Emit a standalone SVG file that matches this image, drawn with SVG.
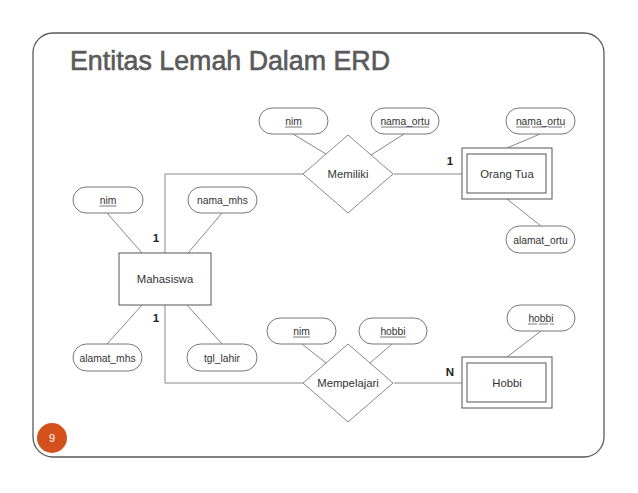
<svg xmlns="http://www.w3.org/2000/svg" width="638" height="493" viewBox="0 0 638 493">
<style>
.frame{fill:#fff;stroke:#5a5a5a;stroke-width:1.3}
.title{font-family:"Liberation Sans",Arial,sans-serif;font-size:27px;fill:#5a5a5a;stroke:#5a5a5a;stroke-width:0.6}
.attr rect{fill:#fff;stroke:#777;stroke-width:1}
.attr text,.ent text,.rel text{font-family:"Liberation Sans",Arial,sans-serif;fill:#333;text-anchor:middle}
.attr text{font-size:10.3px}
.ent text,.rel text{font-size:11.3px}
.ul{stroke:#555;stroke-width:0.8}
.ent rect{fill:#fff;stroke:#555;stroke-width:1}
.rel polygon{fill:#fff;stroke:#888;stroke-width:1}
.conn line,.conn polyline{fill:none;stroke:#888;stroke-width:1}
.card{font-family:"Liberation Sans",Arial,sans-serif;font-size:11.5px;font-weight:bold;fill:#222;text-anchor:middle}
</style>
<rect width="638" height="493" fill="#fff"/>
<rect class="frame" x="33" y="33" width="571" height="424" rx="20" ry="20"/>
<text class="title" x="70" y="70" textLength="320" lengthAdjust="spacingAndGlyphs">Entitas Lemah Dalam ERD</text>

<g id="connectors" class="conn">
<polyline points="165,253 165,174 303,174"/>
<polyline points="165,305 165,383 303,383"/>
<line x1="394" y1="174" x2="462" y2="174"/>
<line x1="394" y1="383" x2="462" y2="383"/>
<line x1="293" y1="134" x2="326" y2="154"/>
<line x1="404" y1="134" x2="371" y2="155"/>
<line x1="540" y1="134" x2="507" y2="148"/>
<line x1="541" y1="226" x2="507" y2="199"/>
<line x1="107" y1="213" x2="142" y2="253"/>
<line x1="222" y1="213" x2="188" y2="253"/>
<line x1="107" y1="344" x2="142" y2="305"/>
<line x1="222" y1="344" x2="187" y2="305"/>
<line x1="302" y1="344" x2="326" y2="363"/>
<line x1="392" y1="344" x2="370" y2="363"/>
<line x1="541" y1="331" x2="507" y2="357"/>
</g>

<g id="cardinalities">
<text class="card" x="156" y="242">1</text>
<text class="card" x="156" y="322">1</text>
<text class="card" x="450" y="165">1</text>
<text class="card" x="450" y="376">N</text>
</g>

<g id="mahasiswa" class="ent">
<rect x="119" y="253" width="92" height="52"/>
<text x="165" y="283">Mahasiswa</text>
</g>
<g id="orang_tua" class="ent">
<rect x="462" y="148" width="90" height="51"/>
<rect x="467" y="154" width="79" height="39"/>
<text x="507" y="178">Orang Tua</text>
</g>
<g id="hobbi_ent" class="ent">
<rect x="462" y="357" width="90" height="51"/>
<rect x="467" y="363" width="79" height="39"/>
<text x="507" y="387">Hobbi</text>
</g>

<g id="memiliki" class="rel">
<polygon points="303,174 348,135 393,174 348,213"/>
<text x="348" y="178">Memiliki</text>
</g>
<g id="mempelajari" class="rel">
<polygon points="303,383 348,344 393,383 348,422"/>
<text x="348" y="387">Mempelajari</text>
</g>

<g id="attr_nim1" class="attr">
<rect x="259" y="108" width="69" height="26" rx="13"/>
<text x="293.5" y="125">nim</text>
<line class="ul" x1="285" y1="127" x2="302" y2="127"/>
</g>
<g id="attr_nama_ortu1" class="attr">
<rect x="371" y="108" width="68" height="26" rx="13"/>
<text x="405" y="125">nama_ortu</text>
<line class="ul" x1="381" y1="127" x2="429" y2="127"/>
</g>
<g id="attr_nama_ortu2" class="attr">
<rect x="506" y="108" width="69" height="26" rx="13"/>
<text x="540.5" y="125">nama_ortu</text>
<line class="ul" x1="516" y1="127" x2="565" y2="127" stroke-dasharray="14,2"/>
</g>
<g id="attr_nim2" class="attr">
<rect x="73" y="187" width="70" height="26" rx="13"/>
<text x="108" y="204">nim</text>
<line class="ul" x1="99.5" y1="206" x2="116.5" y2="206"/>
</g>
<g id="attr_nama_mhs" class="attr">
<rect x="188" y="187" width="69" height="26" rx="13"/>
<text x="222.5" y="204">nama_mhs</text>
</g>
<g id="attr_alamat_ortu" class="attr">
<rect x="506" y="226" width="69" height="27" rx="13.5"/>
<text x="540.5" y="243.5">alamat_ortu</text>
</g>
<g id="attr_hobbi2" class="attr">
<rect x="507" y="305" width="68" height="26" rx="13"/>
<text x="541" y="322">hobbi</text>
<line class="ul" x1="528" y1="324" x2="554" y2="324" stroke-dasharray="9,2"/>
</g>
<g id="attr_nim3" class="attr">
<rect x="267" y="318" width="69" height="26" rx="13"/>
<text x="301.5" y="335">nim</text>
<line class="ul" x1="293" y1="337" x2="310" y2="337"/>
</g>
<g id="attr_hobbi1" class="attr">
<rect x="359" y="318" width="68" height="26" rx="13"/>
<text x="393" y="335">hobbi</text>
<line class="ul" x1="380" y1="337" x2="406" y2="337"/>
</g>
<g id="attr_alamat_mhs" class="attr">
<rect x="73" y="344" width="69" height="27" rx="13.5"/>
<text x="107.5" y="361.5">alamat_mhs</text>
</g>
<g id="attr_tgl_lahir" class="attr">
<rect x="187" y="344" width="70" height="27" rx="13.5"/>
<text x="222" y="361.5">tgl_lahir</text>
</g>

<g id="page_number">
<circle cx="52" cy="438" r="15" fill="#D4501C"/>
<text x="52" y="442" font-family="Liberation Sans,Arial,sans-serif" font-size="11" fill="#fff" text-anchor="middle">9</text>
</g>
</svg>
